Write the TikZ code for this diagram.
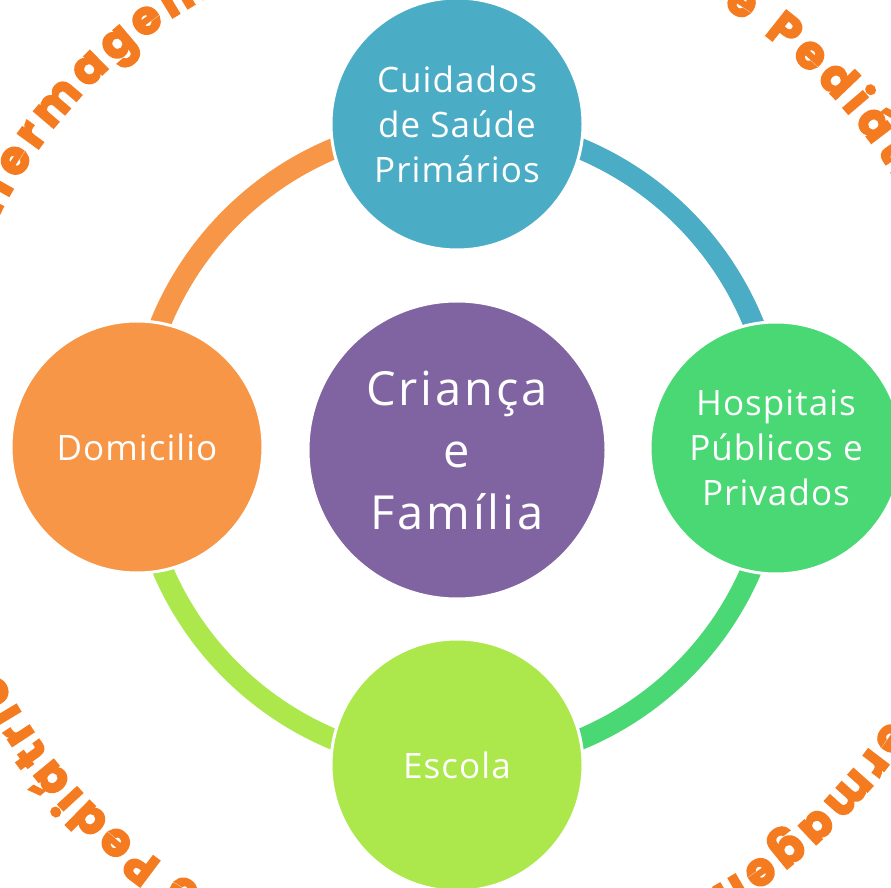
\documentclass[tikz,border=0pt]{standalone}
\usepackage{fontspec}
\setmainfont{Open Sans}
\newfontfamily\ringfont{Poppins}[FakeBold=4]
\usetikzlibrary{decorations.text}
\definecolor{cblue}{HTML}{4BACC6}
\definecolor{cgreen}{HTML}{4AD874}
\definecolor{clime}{HTML}{ACE84B}
\definecolor{corange}{HTML}{F79646}
\definecolor{cpurple}{HTML}{8064A2}
\definecolor{ringorange}{HTML}{F47B20}
\newcommand\ringstyle{\fontsize{46}{46}\ringfont\bfseries}
% #1 start angle, #2 end angle
\newcommand\ringtext[2]{%
  \path[decorate, decoration={text along path, text align={fit to path},
      text color=ringorange,
      text={|\ringstyle|Enfermagem de Saúde Infantil e Pediátrica}}]
      (c) ++(#1:512pt) arc[start angle=#1, end angle=#2, radius=512pt];}
\tikzset{
  outer/.style={circle, draw=white, line width=3pt, minimum size=252pt, inner sep=0pt, text=white, align=center, font=\fontsize{35}{45}\selectfont\addfontfeatures{LetterSpace=3}},
  inner/.style={circle, draw=white, line width=3pt, minimum size=298pt, inner sep=0pt, text=white, align=center, font=\fontsize{47}{62}\selectfont\addfontfeatures{LetterSpace=6}},
  ringarc/.style={line width=21pt}
}
\begin{document}
\begin{tikzpicture}[x=1pt,y=1pt]
\useasboundingbox (0,0) rectangle (891,887);
\clip (0,0) rectangle (891,887);
\fill[white] (0,0) rectangle (891,887);
\coordinate (c) at (457,443);
% circular text
\ringtext{159}{20}
\ringtext{-22.8}{-157.4}
% ring
\draw[ringarc, cblue] (c) ++(90:320pt) arc[start angle=90, end angle=0, radius=320pt];
\draw[ringarc, cgreen] (c) ++(0:320pt) arc[start angle=0, end angle=-90, radius=320pt];
\draw[ringarc, clime] (c) ++(-90:320pt) arc[start angle=-90, end angle=-180, radius=320pt];
\draw[ringarc, corange] (c) ++(180:320pt) arc[start angle=180, end angle=90, radius=320pt];
% nodes
\node[inner, fill=cpurple] (fam) at (457,437) {Criança\\e\\Família};
\node[outer, fill=cblue] (csp) at (457,763) {Cuidados\\de Saúde\\Primários};
\node[outer, fill=cgreen] (hosp) at (776,439) {Hospitais\\Públicos e\\Privados};
\node[outer, fill=clime] (esc) at (457,122) {Escola};
\node[outer, fill=corange] (dom) at (137,440) {Domicilio};
\end{tikzpicture}
\end{document}
